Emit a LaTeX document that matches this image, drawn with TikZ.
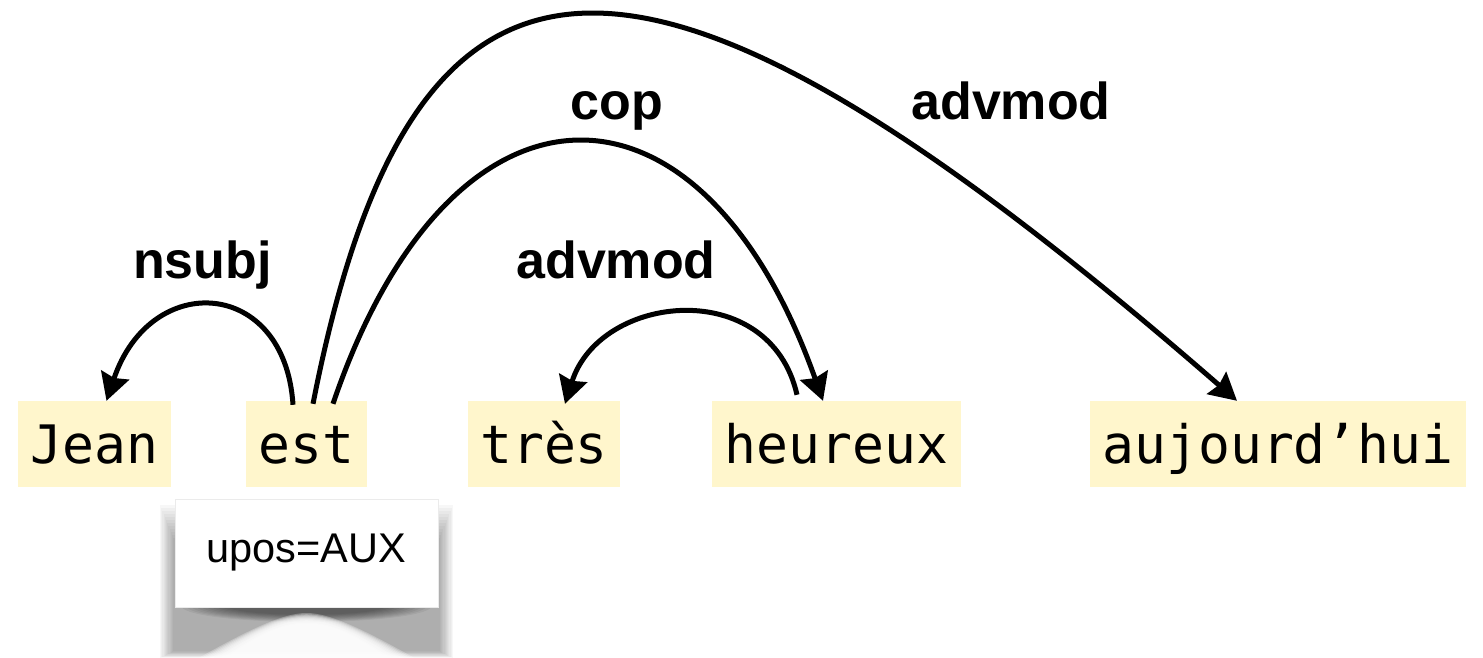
\documentclass[tikz,border=0pt]{standalone}
\usepackage{fontspec}
\setmainfont{Liberation Sans}
\newfontfamily\wordfont{DejaVu Sans Mono}
\newfontfamily\relfont{Liberation Sans}[BoldFont={Liberation Sans Bold}]
\usetikzlibrary{arrows.meta,calc}
\definecolor{wordbg}{HTML}{FFF6CC}
\tikzset{
  word/.style={fill=wordbg, inner sep=0pt, minimum height=86pt,
    text height=38.5pt, text depth=0pt,
    font=\wordfont\fontsize{53}{60}\selectfont},
  dep/.style={line width=5pt, -{Stealth[length=27pt,width=29pt,inset=3pt]}},
  rel/.style={anchor=base, inner sep=0pt,
    font=\relfont\bfseries\fontsize{52}{60}\selectfont},
  featbox/.style={fill=white, draw=black!8, line width=0.8pt, inner sep=0pt,
    minimum width=263pt, minimum height=108pt, font=\fontsize{41.5}{46}\selectfont}
}
\begin{document}
\begin{tikzpicture}[x=1pt, y=-1pt]
\useasboundingbox (0,0) rectangle (1483,658);

% words
\node[word, minimum width=153pt] (jean) at (94.5,444) {Jean};
\node[word, minimum width=121pt] (est) at (306.5,444) {est};
\node[word, minimum width=152pt] (tres) at (544,444) {très};
\node[word, minimum width=249pt] (heureux) at (836.5,444) {heureux};
\node[word, minimum width=376pt] (auj) at (1278,444) {aujourd’hui};

% soft lifted shadow under the feature card: grey band ...
\foreach \i in {0,...,11}{
  \fill[black, opacity=0.032] (160+\i*1.2, 505+\i*3) rectangle (453-\i*1.2, 658-\i*0.6);
}
% ... darker just below the card's middle ...
\foreach \i in {0,...,9}{
  \fill[black, opacity=0.06] (306.5,606) ellipse ({125-\i*5} and {16-\i*0.8});
}
% ... and lit in a widening wedge beneath it
\foreach \i in {0,...,9}{
  \fill[white, opacity=0.28]
    (195+\i*3,660) .. controls (245+\i*2,632) and (282,613+\i*1.2) .. (306.5,613+\i*1.2)
    .. controls (331,613+\i*1.2) and (368-\i*2,632) .. (418-\i*3,660) -- cycle;
}
\node[featbox] (feat) at (306.5,553) {upos=AUX};

% dependency arcs
\draw[dep] ([xshift=-13.5pt, yshift=-4pt]est.north)
  .. controls +(-8,-127) and +(44,-131) .. ([xshift=12pt]jean.north);
\draw[dep] ([xshift=6.5pt, yshift=-3pt]est.north)
  .. controls +(101,-515) and +(-595,-518) .. ([xshift=-41pt]auj.north);
\draw[dep] ([xshift=26.5pt, yshift=-3pt]est.north)
  .. controls +(117,-345) and +(-123,-347) .. ([xshift=-13.5pt]heureux.north);
\draw[dep] ([xshift=-39.5pt, yshift=6pt]heureux.north)
  .. controls +(-27,-119) and +(35,-111) .. ([xshift=21pt, yshift=-3pt]tres.north);

% relation labels
\node[rel] (lnsubj) at (202.5,278) {nsubj};
\node[rel] (lcop) at (617,120) {cop};
\node[rel] (ladv1) at (1011,120) {advmod};
\node[rel] (ladv2) at (616,278) {advmod};
\end{tikzpicture}
\end{document}
